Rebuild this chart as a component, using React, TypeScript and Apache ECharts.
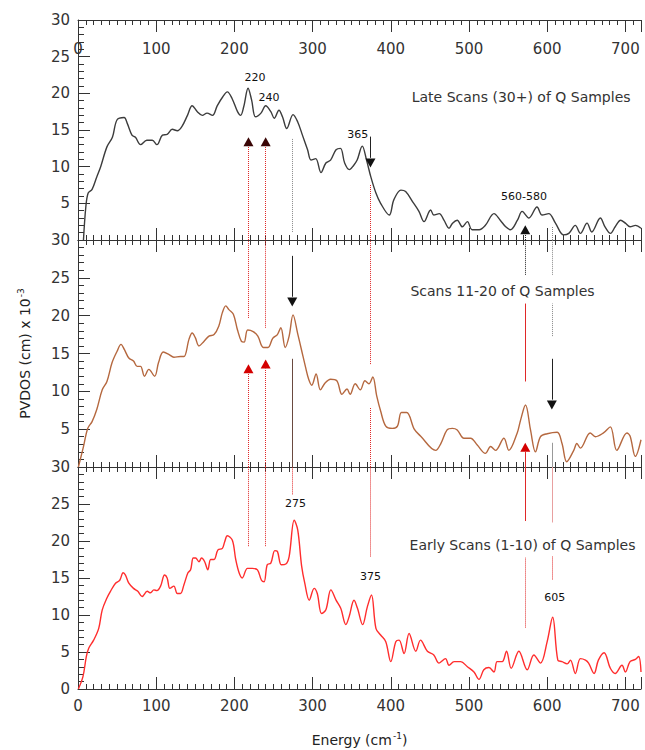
import React, { useEffect, useRef } from 'react';
import * as echarts from 'echarts';

const xTickLabels = [0, 100, 200, 300, 400, 500, 600, 700];
const yTickLabels = [0, 5, 10, 15, 20, 25, 30];

// Late scans (30+)
const lateEnergy = [7, 10, 13, 18, 24, 29, 37, 44, 50, 59, 63, 69, 73.5, 80, 88, 95, 101, 108, 114, 120.5, 127, 133, 140, 146, 152.6, 159, 165, 172, 178, 185, 191, 197, 204, 208, 212, 217.5, 222, 227, 234, 240, 246.6, 251, 257, 261.5, 267, 275, 281, 287, 293.6, 298, 304, 310.7, 317, 323, 330, 335.7, 341, 347, 352, 357, 363.5, 369, 374.5, 381, 387, 398, 404, 413, 419, 428, 436, 442.5, 451, 455, 462, 468, 474.5, 479, 485, 491.5, 498, 504, 513, 521, 532, 540, 547, 553, 562, 568, 576.6, 587, 593.6, 602, 610.6, 621, 627.7, 636, 642.5, 651, 657, 668, 674, 681, 687, 694, 700, 706, 713, 720];
const lateValue = [0, 4.5, 6.4, 6.9, 8.6, 10, 12.7, 14, 16.4, 16.7, 15.9, 14.3, 14, 13, 13.6, 13.6, 13, 14.3, 14.4, 15.1, 14.9, 15.5, 17, 18.3, 17.5, 17, 17.3, 17, 18.3, 19.5, 20.2, 19.3, 17.5, 17, 18.2, 20.7, 19.1, 16.8, 17.3, 18.3, 17.5, 16.6, 17.7, 16.8, 15.2, 17.1, 16.1, 14.3, 12.3, 10.9, 11.1, 9.2, 10.5, 10.9, 12.3, 12.5, 10.5, 9.6, 10.1, 10.9, 12.8, 10.9, 8.6, 6.4, 5.0, 3.4, 5.5, 6.8, 6.6, 5.2, 3.9, 2.5, 4.1, 3.4, 3.6, 2.7, 1.6, 2.3, 2.7, 1.8, 2.5, 1.4, 1.4, 2.0, 3.6, 2.7, 1.8, 1.4, 2.7, 3.9, 3.0, 4.5, 3.4, 3.6, 2.3, 0.7, 0.9, 2.0, 0.9, 2.3, 1.1, 3.0, 1.8, 0.9, 1.8, 2.7, 2.3, 1.8, 2.0, 1.6];

// Scans 11-20
const midEnergy = [0.5, 7, 12.4, 18, 24, 31, 37, 43.6, 50, 55, 59.4, 65, 71, 75.6, 80, 85, 90.6, 98, 103, 109, 116, 122.6, 131, 135.5, 142, 146, 150, 154.7, 161, 167.5, 174, 180, 184.6, 189, 193, 198.7, 204, 209, 212.4, 217, 224, 230, 237, 243, 249, 255, 259.4, 265, 270, 275, 281, 286, 291, 295, 299, 304.5, 310, 316, 323, 331, 337.6, 344, 348, 354.5, 361, 367, 372, 377, 382, 387, 393.6, 402, 408.5, 413.6, 420.4, 430, 438, 457.4, 464, 472, 478.7, 485, 493.6, 502, 510.6, 521, 527.7, 534, 544.7, 551, 561.7, 566, 572.3, 578.7, 585, 591.5, 600, 612.8, 619, 625, 634, 638, 642.5, 655, 661.7, 672, 680.8, 689, 702, 706, 712.8, 720];
const midValue = [0, 2.7, 5.1, 6, 7.6, 10.2, 11.3, 13.8, 15.3, 16.2, 15.5, 14.4, 14.0, 13.3, 13.3, 12.0, 12.9, 12.0, 13.8, 15.2, 14.9, 14.5, 14.6, 14.6, 16.9, 17.7, 17.1, 16.0, 16.6, 17.3, 17.5, 18.6, 20.4, 21.3, 20.8, 20.2, 18.1, 16.6, 16.5, 18.1, 17.9, 17.3, 15.8, 15.8, 17.0, 17.5, 18.4, 15.8, 17.3, 20.1, 17.6, 15.4, 13.2, 11.6, 10.8, 12.3, 10.2, 11.1, 11.6, 11.4, 9.6, 10.3, 9.6, 11.0, 10.2, 11.4, 11.0, 11.9, 9.4, 7.4, 5.4, 5.1, 5.4, 7.2, 7.2, 5.0, 4.1, 2.2, 3.1, 4.9, 5.1, 4.9, 3.8, 3.8, 2.9, 1.8, 2.7, 2.2, 3.8, 2.2, 4.5, 6.2, 8.2, 4.9, 2.0, 4.0, 4.4, 4.6, 3.1, 0.7, 2.2, 3.1, 2.5, 4.5, 4.0, 4.5, 5.3, 2.2, 4.5, 4.1, 1.4, 3.6];

// Early scans (1-10)
const earlyEnergy = [0.5, 6.4, 10.7, 13.7, 20, 26.5, 31, 37, 41.5, 48, 53.4, 57.7, 60.7, 65, 71, 76.5, 82, 88.5, 92.7, 97, 101, 105.6, 110.7, 114, 117.5, 122.6, 127, 131, 135.5, 140.6, 144, 147.4, 150.4, 154.7, 158, 162, 166, 169.7, 174, 179, 184.6, 187.6, 191, 197.4, 201.7, 206, 210, 216.7, 223, 229.5, 234.6, 238, 242, 246.6, 251.7, 255, 260, 265.8, 270, 276.5, 281, 286, 290, 295.7, 302, 306, 311.5, 317, 323.4, 330, 336, 342.6, 346.8, 353, 357.4, 364, 370, 375.3, 381, 387, 393.6, 400, 406.4, 410.6, 417, 423.4, 432, 438, 446.8, 455, 461.7, 470, 474.5, 481, 489.4, 498, 506.4, 512.8, 519, 525.5, 532, 536, 542.5, 548, 554, 563.8, 574.5, 583, 591.5, 600, 607, 613.6, 619, 625.5, 629.8, 636, 642.5, 649, 653, 660, 665.5, 672.8, 680.8, 687, 695.7, 700, 706, 712.8, 717, 720];
const earlyValue = [0, 1.7, 4.4, 5.5, 6.6, 8.2, 10.7, 12.3, 13.2, 14.3, 14.7, 15.7, 15.4, 14.3, 13.6, 13.2, 12.5, 13.2, 13.0, 13.4, 13.3, 13.9, 15.4, 15.0, 13.6, 13.9, 12.9, 12.9, 14.1, 15.7, 16.1, 17.7, 17.7, 17.2, 17.7, 17.2, 16.1, 17.5, 17.5, 18.8, 19.0, 19.9, 20.7, 20.1, 17.5, 15.7, 15.0, 16.3, 16.3, 16.1, 14.7, 14.5, 16.8, 17.0, 18.7, 18.6, 16.8, 16.9, 17.9, 22.8, 21.5, 16.6, 14.3, 12.0, 13.6, 12.9, 10.2, 10.7, 13.4, 12.0, 10.9, 8.7, 9.8, 12.0, 10.9, 8.7, 11.1, 12.7, 8.2, 7.3, 6.4, 3.7, 6.4, 6.6, 4.8, 7.5, 5.1, 6.6, 5.1, 4.6, 3.5, 4.1, 3.2, 3.7, 3.7, 3.0, 2.3, 1.3, 2.6, 2.9, 2.3, 3.7, 3.7, 5.1, 2.8, 5.1, 2.6, 4.6, 3.5, 6.4, 9.7, 3.9, 3.7, 3.4, 3.9, 2.1, 4.1, 3.9, 3.5, 2.1, 3.9, 4.9, 2.8, 2.1, 3.2, 2.3, 3.7, 4.0, 4.4, 2.3];

const panelTitles = ['Late Scans (30+) of Q Samples', 'Scans 11-20 of Q Samples', 'Early Scans (1-10) of Q Samples'];
// title anchor [energy, value]
const titleAnchors = [[566.7, 19.5], [542.9, 23.3], [568.5, 19.5]];

// Vertical guide segments: [energy, from, to, style]
const lateGuides: [number, number, number, string][] = [
  [218, 0, 12.7, 'redDot'],
  [240, 0, 12.7, 'redDot'],
  [274, 1.1, 13.8, 'greyDot'],
  [374, 11.2, 14.1, 'black'],
  [374, 0, 7.5, 'redDot'],
  [572, 0, 0.8, 'blackDot'],
  [606, 0, 1.8, 'greyDot'],
];
const midGuides: [number, number, number, string][] = [
  [218, 19.7, 30, 'redDot'],
  [218, 0, 12.4, 'redDot'],
  [240, 18.4, 30, 'redDot'],
  [240, 0, 13.0, 'redDot'],
  [274, 22.5, 27.9, 'black'],
  [274, 0, 14.3, 'dark'],
  [374, 13.6, 30, 'redDot'],
  [374, 0, 7.9, 'redDot'],
  [572, 25.4, 30, 'blackDot'],
  [572, 11.3, 21.6, 'red'],
  [572, 0, 2.0, 'red'],
  [606, 25.4, 30, 'greyDot'],
  [606, 17.3, 21.6, 'greyDot'],
  [606, 8.9, 14.3, 'black'],
  [606, 0, 3.2, 'grey'],
];
const earlyGuides: [number, number, number, string][] = [
  [218, 19.3, 30, 'redDot'],
  [240, 19.3, 30, 'redDot'],
  [274, 26.3, 30, 'redDot'],
  [374, 17.9, 30, 'redDot'],
  [572, 22.7, 30, 'red'],
  [572, 8.3, 17.8, 'redDot'],
  [606, 22.5, 30, 'pink'],
  [606, 14.8, 17.9, 'redDot'],
];

// Arrow heads: [energy, centre value, direction, colour]
const lateArrows: [number, number, string, string][] = [
  [218, 13.4, 'up', 'maroon'],
  [240, 13.4, 'up', 'maroon'],
  [374, 10.5, 'down', 'black'],
  [572, 1.4, 'up', 'black'],
];
const midArrows: [number, number, string, string][] = [
  [274, 21.8, 'down', 'black'],
  [218, 13.0, 'up', 'red'],
  [240, 13.6, 'up', 'red'],
  [572, 2.6, 'up', 'red'],
  [606, 8.2, 'down', 'black'],
];
const earlyArrows: [number, number, string, string][] = [];

// Peak notes: [text, energy, value]
const lateNotes: [string, number, number][] = [
  ['220', 226.5, 22.1],
  ['240', 244.4, 19.4],
  ['365', 357.7, 14.35],
  ['560-580', 570.5, 6.0],
];
const midNotes: [string, number, number][] = [];
const earlyNotes: [string, number, number][] = [
  ['275', 278, 25.06],
  ['375', 374, 15.2],
  ['605', 609.8, 12.4],
];

const FONT = 'DejaVu Sans';
const AXIS = '#333';

const guideStyles: Record<string, any> = {
  redDot: { color: '#e02828', type: [1, 1], width: 1 },
  blackDot: { color: '#222', type: [1, 1], width: 1 },
  greyDot: { color: '#888', type: [1, 1], width: 1 },
  black: { color: '#222', type: 'solid', width: 1 },
  dark: { color: '#6a4a40', type: 'solid', width: 1 },
  red: { color: '#e02828', type: 'solid', width: 1 },
  grey: { color: '#999', type: 'solid', width: 1 },
  pink: { color: '#e8a0a0', type: 'solid', width: 1 },
};
const arrowColors: Record<string, string> = {
  maroon: '#3a0606',
  black: '#111',
  red: '#d40000',
};

const lineColors = ['#3c3c3c', '#b5683f', '#ff2d2d'];

function buildOption() {
  const panels = [
    { e: lateEnergy, v: lateValue, g: lateGuides, a: lateArrows, n: lateNotes },
    { e: midEnergy, v: midValue, g: midGuides, a: midArrows, n: midNotes },
    { e: earlyEnergy, v: earlyValue, g: earlyGuides, a: earlyArrows, n: earlyNotes },
  ];
  const grids = [
    { left: 78, right: 4, top: 20, height: 220 },
    { left: 78, right: 4, top: 240, height: 227 },
    { left: 78, right: 4, top: 467, height: 222 },
  ];
  const axisLineStyle = { color: AXIS, width: 1 };
  const xLabelFmt = (v: number) => (xTickLabels.indexOf(v) >= 0 ? String(v) : '');
  const xAxes: any[] = [];
  const yAxes: any[] = [];
  grids.forEach((_, i) => {
    const common = {
      gridIndex: i,
      type: 'value',
      min: 0,
      max: 720,
      interval: 100,
      axisLine: { show: true, onZero: false, lineStyle: axisLineStyle },
      axisTick: { show: true, inside: true, length: 12, lineStyle: axisLineStyle },
      minorTick: { show: true, splitNumber: 10, length: 5, lineStyle: axisLineStyle },
      splitLine: { show: false },
      minorSplitLine: { show: false },
    };
    xAxes.push({
      ...common,
      position: 'top',
      axisLabel:
        i === 0
          ? { show: true, inside: true, margin: 21, fontSize: 15, color: AXIS, fontFamily: FONT, formatter: xLabelFmt }
          : { show: false },
    });
    xAxes.push({
      ...common,
      position: 'bottom',
      axisLabel:
        i === 2
          ? { show: true, margin: 9, fontSize: 15, color: AXIS, fontFamily: FONT, formatter: xLabelFmt }
          : { show: false },
      ...(i === 2
        ? {
            name: 'Energy (cm{sup|-1})',
            nameLocation: 'middle',
            nameGap: 42,
            nameTextStyle: {
              fontSize: 14,
              color: '#222',
              fontFamily: FONT,
              rich: { sup: { fontSize: 9, color: '#222', fontFamily: FONT, verticalAlign: 'top', padding: [0, 0, 8, 1] } },
            },
          }
        : {}),
    });
    // the lower panels' "30" sits where the upper panel's "0" would be
    const hideZero = i < 2;
    yAxes.push({
      gridIndex: i,
      type: 'value',
      position: 'left',
      min: 0,
      max: 30,
      interval: 5,
      axisLine: { show: true, onZero: false, lineStyle: axisLineStyle },
      axisTick: { show: true, inside: true, length: 12, lineStyle: axisLineStyle },
      minorTick: { show: true, splitNumber: 5, length: 6, lineStyle: axisLineStyle },
      splitLine: { show: false },
      axisLabel: {
        show: true,
        margin: 8,
        fontSize: 15,
        color: AXIS,
        fontFamily: FONT,
        formatter: (v: number) =>
          yTickLabels.indexOf(v) >= 0 && !(hideZero && v === 0) ? String(v) : '',
      },
      ...(i === 1
        ? {
            name: 'PVDOS (cm) x 10{sup|-3}',
            nameLocation: 'middle',
            nameGap: 45,
            nameRotate: 90,
            nameTextStyle: {
              fontSize: 14,
              color: '#222',
              fontFamily: FONT,
              rich: { sup: { fontSize: 9, color: '#222', fontFamily: FONT, verticalAlign: 'top', padding: [0, 0, 8, 1] } },
            },
          }
        : {}),
    });
  });

  const series = panels.map((p, i) => ({
    type: 'line',
    xAxisIndex: i * 2 + 1,
    yAxisIndex: i,
    data: p.e.map((e, k) => [e, p.v[k]]),
    smooth: 0.35,
    symbol: 'none',
    lineStyle: { color: lineColors[i], width: 1.4 },
    silent: true,
    markLine: {
      silent: true,
      animation: false,
      symbol: ['none', 'none'],
      label: { show: false },
      emphasis: { disabled: true },
      data: p.g.map((g) => [
        { coord: [g[0], g[1]], lineStyle: guideStyles[g[3]] },
        { coord: [g[0], g[2]], lineStyle: guideStyles[g[3]] },
      ]),
    },
    markPoint: {
      silent: true,
      animation: false,
      data: [
        ...p.a.map((a) => ({
          coord: [a[0], a[1]],
          symbol: 'triangle',
          symbolSize: [10, 9],
          symbolRotate: a[2] === 'down' ? 180 : 0,
          itemStyle: { color: arrowColors[a[3]] },
          label: { show: false },
        })),
        ...p.n.map((n) => ({
          coord: [n[1], n[2]],
          symbol: 'circle',
          symbolSize: 0,
          itemStyle: { color: 'rgba(0,0,0,0)' },
          label: { show: true, position: 'inside', formatter: n[0], fontSize: 11, color: '#111', fontFamily: FONT },
        })),
        {
          coord: titleAnchors[i],
          symbol: 'circle',
          symbolSize: 0,
          itemStyle: { color: 'rgba(0,0,0,0)' },
          label: { show: true, position: 'inside', formatter: panelTitles[i], fontSize: 14, color: '#333', fontFamily: FONT },
        },
      ],
    },
  }));

  return {
    animation: false,
    backgroundColor: '#fff',
    textStyle: { fontFamily: FONT },
    grid: grids,
    xAxis: xAxes,
    yAxis: yAxes,
    series,
  };
}

export default function App() {
  const ref = useRef<HTMLDivElement>(null);
  useEffect(() => {
    document.body.style.margin = '0';
    const chart = echarts.init(ref.current as HTMLDivElement, null, { renderer: 'svg' });
    chart.setOption(buildOption() as any);
    return () => chart.dispose();
  }, []);
  return <div ref={ref} style={{ width: 645, height: 750 }} />;
}
